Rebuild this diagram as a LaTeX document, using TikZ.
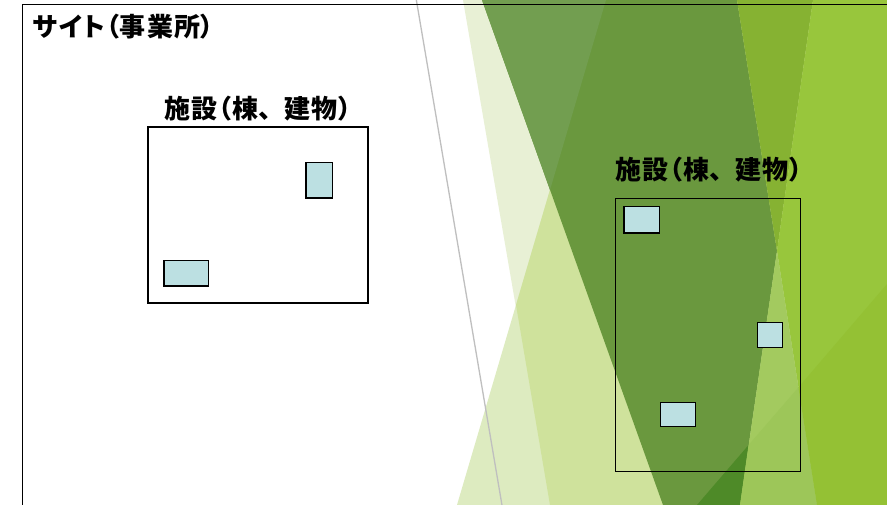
\documentclass[tikz,border=0pt]{standalone}
\usepackage{fontspec}
\newfontfamily\jp[RawFeature=+palt, LetterSpace=4]{Noto Sans CJK JP}
\newfontfamily\jpf[LetterSpace=4]{Noto Sans CJK JP}
\definecolor{gVeryLight}{HTML}{E8F0D5}
\definecolor{gLight}{HTML}{DDEBC0}
\definecolor{gMedLight}{HTML}{CFE29C}
\definecolor{gDarkLite}{HTML}{729E50}
\definecolor{gDark}{HTML}{6A983E}
\definecolor{gMid}{HTML}{86B232}
\definecolor{gBright}{HTML}{98C63C}
\definecolor{gPale}{HTML}{A3CA5F}
\definecolor{gDarkest}{HTML}{4E8A28}
\definecolor{gPale2}{HTML}{9DC659}
\definecolor{gBright2}{HTML}{94C134}
\definecolor{bldg}{HTML}{BCE0E2}
\definecolor{facetline}{HTML}{BFBFBF}
\begin{document}
\begin{tikzpicture}[x=1pt,y=-1pt,
  ttl/.style={inner sep=0pt, font=\jp\bfseries\fontsize{26}{30}\selectfont},
  sitebox/.style={draw=black, line width=1.4pt, inner sep=0pt},
  facbox/.style={draw=black, inner sep=0pt},
  bldgbox/.style={draw=black, fill=bldg, line width=1.2pt, inner sep=0pt}]
\useasboundingbox (0,0) rectangle (887,505);
\clip (0,0) rectangle (887,505);
\fill[white] (0,0) rectangle (887,505);
% background facets
\fill[gVeryLight] (463,0) -- (887,0) -- (887,505) -- (550,505) -- cycle;
\fill[gLight] (606,0) -- (887,0) -- (887,505) -- (457,505) -- cycle;
\fill[gMedLight] (606,0) -- (887,0) -- (887,505) -- (550,505) -- (516,305) -- cycle;
\fill[gDark] (482,0) -- (737,0) -- (777,251) -- (740,505) -- (663,505) -- cycle;
\fill[gDarkLite] (482,0) -- (606,0) -- (550,190) -- cycle;
\fill[gMid] (737,0) -- (813,0) -- (777,251) -- cycle;
\fill[gBright] (813,0) -- (887,0) -- (887,505) -- (817,505) -- (777,251) -- cycle;
\fill[gPale] (777,251) -- (817,505) -- (740,505) -- cycle;
\fill[gDarkest] (697,505) -- (748.6,445) -- (740,505) -- cycle;
\fill[gPale2] (748.6,445) -- (798.4,387.4) -- (817,505) -- (740,505) -- cycle;
\fill[gBright2] (798.4,387.4) -- (887,284) -- (887,505) -- (817,505) -- cycle;
\draw[facetline, line width=1.3pt] (416,-2) -- (502.3,507);
% site
\node[sitebox, minimum width=977pt, minimum height=595pt] (site) at (511,302) {};
\node[ttl] (siteT) at (123.5,26.5) {サイト（事業所）};
% facility 1
\node[ttl] (fac1T) at (258,109) {施設（棟{\jpf\bfseries 、}建物）};
\node[facbox, line width=1.4pt, minimum width=220pt, minimum height=176pt] (fac1) at (257.9,215.2) {};
\node[bldgbox, minimum width=26.5pt, minimum height=35.2pt] (b11) at (319.2,180.5) {};
\node[bldgbox, minimum width=44.8pt, minimum height=25.8pt] (b12) at (186.3,273.2) {};
% facility 2
\node[ttl] (fac2T) at (709,170) {施設（棟{\jpf\bfseries 、}建物）};
\node[facbox, line width=1pt, minimum width=184.4pt, minimum height=272.4pt] (fac2) at (708,335) {};
\node[bldgbox, minimum width=35.8pt, minimum height=26.2pt] (b21) at (641.8,220) {};
\node[bldgbox, minimum width=25.4pt, minimum height=25.4pt] (b22) at (770,335) {};
\node[bldgbox, minimum width=34.8pt, minimum height=24.4pt] (b23) at (677.7,414.5) {};
\end{tikzpicture}
\end{document}
